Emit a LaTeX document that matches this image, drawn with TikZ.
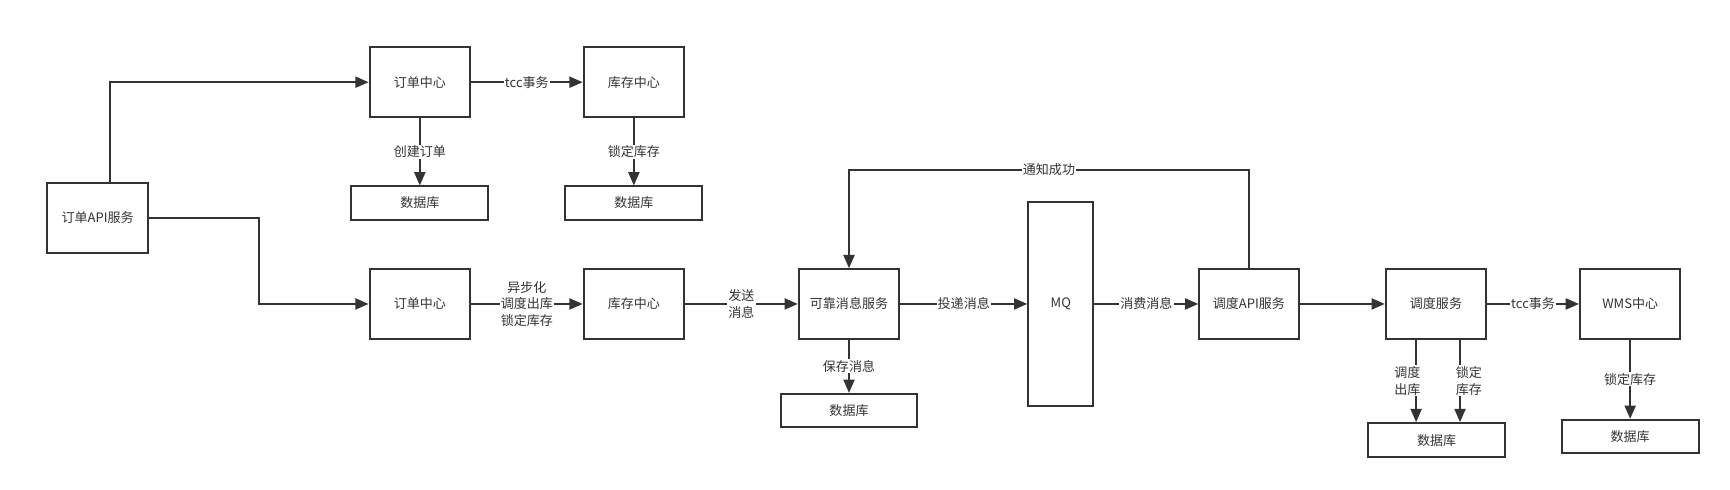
\documentclass[tikz,border=0pt]{standalone}
\usepackage{fontspec}
\setmainfont{Noto Sans CJK SC}
\usetikzlibrary{arrows.meta}
\definecolor{ln}{HTML}{333333}
\begin{document}
\begin{tikzpicture}[x=1pt,y=-1pt,
  box/.style={draw=ln, line width=1.8pt, minimum width=91pt, minimum height=63pt, inner sep=0pt, text=ln, font=\fontsize{11.8}{15}\selectfont},
  dbbox/.style={box, minimum width=124pt, minimum height=30pt},
  arr/.style={draw=ln, line width=1.7pt, -{Triangle[length=12pt,width=10pt]}},
  lbl/.style={fill=white, inner sep=1pt, text=ln, font=\fontsize{11.8}{15}\selectfont, align=center}]
\useasboundingbox (0,0) rectangle (1568,444);
% nodes
\node[box] (api) at (88.5,197.5) {订单API服务};
\node[box] (o1) at (380.5,74.5) {订单中心};
\node[box] (s1) at (574.5,74.5) {库存中心};
\node[dbbox] (db1) at (380.5,184) {数据库};
\node[dbbox] (db2) at (574.5,184) {数据库};
\node[box] (o2) at (380.5,275.5) {订单中心};
\node[box] (s2) at (574.5,275.5) {库存中心};
\node[box] (rm) at (769.5,275.5) {可靠消息服务};
\node[dbbox] (db3) at (769.5,372) {数据库};
\node[box, minimum width=59pt, minimum height=185pt] (mq) at (961.5,275.5) {MQ};
\node[box, minimum width=90pt] (dapi) at (1132,275.5) {调度API服务};
\node[box] (ds) at (1301.5,275.5) {调度服务};
\node[box] (wms) at (1477.5,275.5) {WMS中心};
\node[dbbox, minimum height=31pt] (db4) at (1302,399) {数据库};
\node[dbbox] (db5) at (1477.5,395.5) {数据库};
% connectors
\draw[arr] ([xshift=11.5pt]api.north) |- (o1.west);
\draw[arr] (api.east) -- ++(100,0) |- (o2.west);
\draw[arr] (o1) -- node[lbl]{tcc事务} (s1);
\draw[arr] (o1) -- node[lbl]{创建订单} (db1);
\draw[arr] (s1) -- node[lbl]{锁定库存} (db2);
\draw[arr] (o2) -- node[lbl]{异步化\\调度出库\\锁定库存} (s2);
\draw[arr] (s2) -- node[lbl]{发送\\消息} (rm);
\draw[arr] (rm) -- node[lbl]{保存消息} (db3);
\draw[arr] (rm) -- node[lbl]{投递消息} (mq);
\draw[arr] (mq) -- node[lbl]{消费消息} (dapi);
\draw[arr] (dapi) -- (ds);
\draw[arr] (ds) -- node[lbl]{tcc事务} (wms);
\draw[arr] (wms) -- node[lbl]{锁定库存} (db5);
\coordinate (d1) at ([xshift=-18pt]ds.south);
\coordinate (d2) at ([xshift=21.8pt]ds.south);
\draw[arr] (d1) -- node[lbl,xshift=-8pt]{调度\\出库} (d1 |- db4.north);
\draw[arr] (d2) -- node[lbl,xshift=8pt]{锁定\\库存} (d2 |- db4.north);
\draw[arr] (dapi.north) -- ++(0,-89) -| node[lbl,pos=0.25]{通知成功} (rm.north);
\end{tikzpicture}
\end{document}
